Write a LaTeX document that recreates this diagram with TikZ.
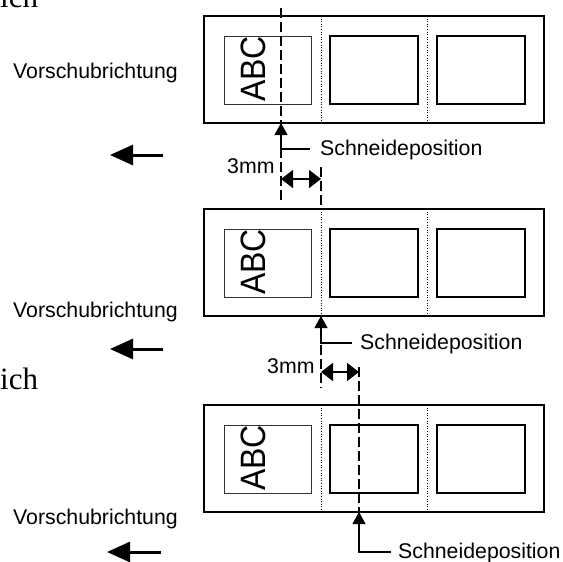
\documentclass[tikz,border=0pt]{standalone}
\usepackage{fontspec}
\setmainfont{Liberation Sans}
\newfontfamily\serifich{Liberation Serif}
\usetikzlibrary{arrows.meta}
\begin{document}
\begin{tikzpicture}[x=1pt,y=-1pt,
  lbl/.style={inner sep=0pt, anchor=base west, font=\fontsize{21.3}{22}\selectfont},
  ichlbl/.style={inner sep=0pt, anchor=base west, font=\serifich\fontsize{31}{31}\selectfont},
  abc/.style={inner sep=0pt, anchor=base west, rotate=90, font=\fontsize{32}{32}\selectfont},
  frame/.style={draw, line width=1.5pt},
  abcbox/.style={draw=black!80, line width=1pt},
  dotline/.style={line width=0.9pt, dash pattern=on 1pt off 1.6pt},
  cutline/.style={line width=1.1pt, dash pattern=on 10pt off 4pt},
  leader/.style={line width=1.1pt, -{Triangle[length=12pt,width=13pt]}},
  dimarrow/.style={line width=1.3pt, {Triangle[length=12pt,width=18pt]}-{Triangle[length=12pt,width=18pt]}},
  feed/.style={line width=3pt, -{Triangle[length=23pt,width=20pt]}}
]
\fill[white] (0,0) rectangle (563,562);
\useasboundingbox (0,0) rectangle (563,562);

% three strips
\foreach \t/\n in {16/1,209/2,405/3} {
  \draw[frame] (204,\t) rectangle (544,\t+107);
  \draw[abcbox] (224,\t+20) rectangle (311,\t+88);
  \draw[frame] (330,\t+20) rectangle (418,\t+88);
  \draw[frame] (437,\t+20) rectangle (525,\t+88);
  \draw[dotline] (321,\t) -- (321,\t+107);
  \draw[dotline] (427,\t) -- (427,\t+107);
  \node[abc] (abc\n) at (265,\t+86) {\scalebox{1}[1.1]{ABC}};
}

% cut-off serif texts
\node[ichlbl] (ich1) at (0,7) {ich};
\node[ichlbl] (ich2) at (0,389) {ich};

% feed direction labels and arrows
\node[lbl] (vor1) at (13,78) {Vorschubrichtung};
\node[lbl] (vor2) at (13,317) {Vorschubrichtung};
\node[lbl] (vor3) at (13,524) {Vorschubrichtung};
\coordinate (f1s) at (163,155); \coordinate (f1e) at (110,155);
\coordinate (f2s) at (163,349); \coordinate (f2e) at (110,349);
\coordinate (f3s) at (161,552); \coordinate (f3e) at (107,552);
\draw[feed] (f1s) -- (f1e);
\draw[feed] (f2s) -- (f2e);
\draw[feed] (f3s) -- (f3e);

% cut lines
\coordinate (c1a) at (281,8);   \coordinate (c1b) at (281,200);
\coordinate (c2a) at (321,167); \coordinate (c2b) at (321,209);
\coordinate (c3a) at (321,345); \coordinate (c3b) at (321,388);
\coordinate (c4a) at (359,367); \coordinate (c4b) at (359,512);
\draw[cutline] (c1a) -- (c1b);
\draw[cutline] (c2a) -- (c2b);
\draw[cutline] (c3a) -- (c3b);
\draw[cutline] (c4a) -- (c4b);

% Schneideposition leaders
\node[lbl] (sp1) at (320,155) {Schneideposition};
\node[lbl] (sp2) at (360,349) {Schneideposition};
\node[lbl] (sp3) at (398,558) {Schneideposition};
\coordinate (t1) at (281,123); \coordinate (k1) at (281,149); \coordinate (h1) at (310,149);
\coordinate (t2) at (321,316); \coordinate (k2) at (321,343); \coordinate (h2) at (352,343);
\coordinate (t3) at (359,512); \coordinate (k3) at (359,552); \coordinate (h3) at (391,552);
\draw[leader] (h1) -- (k1) -- (t1);
\draw[leader] (h2) -- (k2) -- (t2);
\draw[leader] (h3) -- (k3) -- (t3);

% 3mm dimensions
\node[lbl] (mm1) at (227,173) {3mm};
\node[lbl] (mm2) at (267,373) {3mm};
\coordinate (d1a) at (281,179); \coordinate (d1b) at (321,179);
\coordinate (d2a) at (321,372); \coordinate (d2b) at (359,372);
\draw[dimarrow] (d1a) -- (d1b);
\draw[dimarrow] (d2a) -- (d2b);
\end{tikzpicture}
\end{document}
